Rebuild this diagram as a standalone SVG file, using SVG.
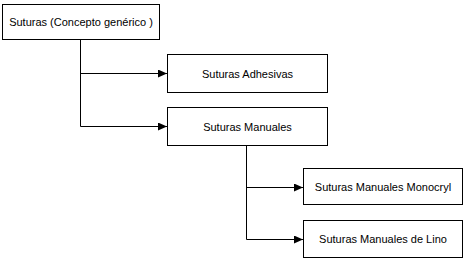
<svg xmlns="http://www.w3.org/2000/svg" width="466" height="261" viewBox="0 0 466 261">
<style>
.box{fill:#fff;stroke:#000;stroke-width:1}
.t{font-family:"Liberation Sans",Arial,sans-serif;font-size:11px;fill:#000;text-anchor:middle;dominant-baseline:central}
.c{fill:none;stroke:#000;stroke-width:1}
</style>
<defs>
<marker id="ah" markerWidth="9" markerHeight="8" refX="9" refY="4" orient="auto" markerUnits="userSpaceOnUse">
<path d="M0,0 L9,4 L0,8 Z" fill="#000"/>
</marker>
</defs>
<rect width="466" height="261" fill="#fff"/>
<g id="connectors">
<path class="c" d="M80.5,39 V126.5"/>
<path class="c" d="M80.5,73.5 H167" marker-end="url(#ah)"/>
<path class="c" d="M80.5,126.5 H167" marker-end="url(#ah)"/>
<path class="c" d="M246.5,145 V239.5"/>
<path class="c" d="M246.5,187.5 H303" marker-end="url(#ah)"/>
<path class="c" d="M246.5,239.5 H303" marker-end="url(#ah)"/>
</g>
<g id="n1"><rect class="box" x="2.5" y="4.5" width="157" height="35"/><text class="t" x="81" y="22">Suturas (Concepto genérico )</text></g>
<g id="n2"><rect class="box" x="167.5" y="54.5" width="160" height="38"/><text class="t" x="247.5" y="73.5">Suturas Adhesivas</text></g>
<g id="n3"><rect class="box" x="167.5" y="107.5" width="160" height="38"/><text class="t" x="247.5" y="126.5">Suturas Manuales</text></g>
<g id="n4"><rect class="box" x="303.5" y="168.5" width="159" height="36"/><text class="t" x="383" y="187">Suturas Manuales Monocryl</text></g>
<g id="n5"><rect class="box" x="303.5" y="220.5" width="159" height="37"/><text class="t" x="383" y="239">Suturas Manuales de Lino</text></g>
</svg>
